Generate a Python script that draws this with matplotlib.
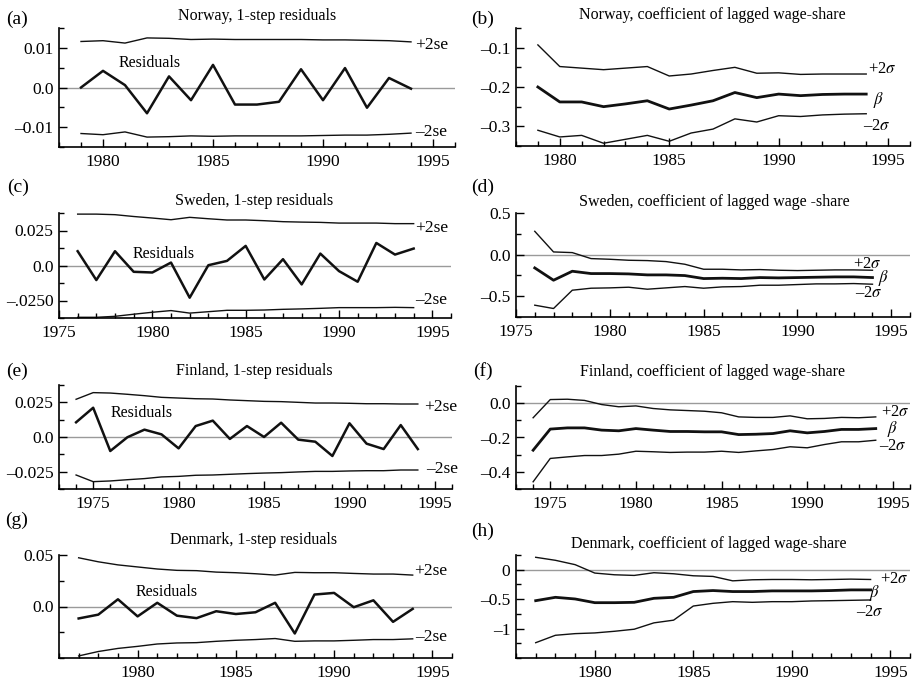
import matplotlib.pyplot as plt
from matplotlib.ticker import MultipleLocator

plt.rcParams['font.family'] = ['Liberation Serif', 'DejaVu Serif']
plt.rcParams['mathtext.fontset'] = 'stix'

W, H = 915, 680

# Norway
no_years = list(range(1979, 1995))
no_res = [0.0, 0.0042, 0.0006, -0.0065, 0.0028, -0.0032, 0.0057, -0.0043,
          -0.0043, -0.0036, 0.0046, -0.0032, 0.0049, -0.0051, 0.0024, -0.0003]
no_se_up = [0.0116, 0.0118, 0.0112, 0.0125, 0.0124, 0.0121, 0.0122, 0.0121,
            0.0121, 0.0121, 0.0121, 0.0120, 0.0120, 0.0119, 0.0118, 0.0115]
no_se_lo = [-0.0116, -0.0119, -0.0112, -0.0125, -0.0124, -0.0122, -0.0123, -0.0122,
            -0.0122, -0.0122, -0.0122, -0.0121, -0.0120, -0.0120, -0.0118, -0.0115]
no_beta = [-0.200, -0.238, -0.238, -0.250, -0.243, -0.235, -0.256, -0.246,
           -0.235, -0.214, -0.227, -0.218, -0.222, -0.219, -0.218, -0.218]
no_beta_up = [-0.093, -0.148, -0.152, -0.156, -0.152, -0.148, -0.172, -0.167,
              -0.158, -0.150, -0.165, -0.164, -0.168, -0.167, -0.167, -0.167]
no_beta_lo = [-0.310, -0.327, -0.323, -0.343, -0.333, -0.323, -0.338, -0.317,
              -0.307, -0.281, -0.289, -0.273, -0.275, -0.271, -0.269, -0.268]

# Sweden
se_years = list(range(1976, 1995))
se_res = [0.0102, -0.0104, 0.0102, -0.0045, -0.0050, 0.0021, -0.0230, 0.0002, 0.0033,
          0.0140, -0.0100, 0.0045, -0.0135, 0.0085, -0.0040, -0.0116, 0.0161, 0.0078, 0.0121]
se_se_up = [0.0367, 0.0367, 0.0363, 0.0350, 0.0339, 0.0327, 0.0344, 0.0334, 0.0325,
            0.0325, 0.0320, 0.0313, 0.0310, 0.0308, 0.0303, 0.0303, 0.0303, 0.0299, 0.0299]
se_se_lo = [-0.0370, -0.0370, -0.0363, -0.0348, -0.0334, -0.0322, -0.0340, -0.0330, -0.0320,
            -0.0320, -0.0318, -0.0313, -0.0310, -0.0306, -0.0301, -0.0301, -0.0301, -0.0299, -0.0301]
se_beta = [-0.160, -0.308, -0.200, -0.228, -0.228, -0.232, -0.244, -0.244, -0.252,
           -0.288, -0.284, -0.288, -0.276, -0.280, -0.276, -0.272, -0.268, -0.268, -0.276]
se_beta_up = [0.280, 0.032, 0.024, -0.048, -0.056, -0.068, -0.072, -0.084, -0.116,
              -0.176, -0.176, -0.184, -0.180, -0.188, -0.192, -0.188, -0.184, -0.184, -0.188]
se_beta_lo = [-0.608, -0.648, -0.428, -0.404, -0.400, -0.392, -0.416, -0.400, -0.384,
              -0.404, -0.388, -0.384, -0.368, -0.368, -0.360, -0.352, -0.352, -0.348, -0.356]

# Finland
fi_years = list(range(1974, 1995))
fi_res = [0.0106, 0.0211, -0.0101, -0.0002, 0.0053, 0.0019, -0.0082, 0.0079, 0.0118, -0.0014,
          0.0079, 0.0, 0.0103, -0.0019, -0.0034, -0.0137, 0.0099, -0.0048, -0.0087, 0.0086, -0.0087]
fi_se_up = [0.0272, 0.0320, 0.0317, 0.0308, 0.0298, 0.0286, 0.0281, 0.0276, 0.0274, 0.0267,
            0.0262, 0.0257, 0.0255, 0.0250, 0.0245, 0.0245, 0.0243, 0.0240, 0.0240, 0.0238, 0.0238]
fi_se_lo = [-0.0274, -0.0322, -0.0317, -0.0308, -0.0300, -0.0288, -0.0284, -0.0276, -0.0274, -0.0269,
            -0.0264, -0.0260, -0.0257, -0.0252, -0.0248, -0.0248, -0.0245, -0.0243, -0.0243, -0.0238, -0.0238]
fi_beta = [-0.274, -0.151, -0.144, -0.144, -0.157, -0.161, -0.148, -0.157, -0.165, -0.165,
           -0.167, -0.167, -0.183, -0.181, -0.177, -0.161, -0.173, -0.165, -0.153, -0.153, -0.148]
fi_beta_up = [-0.085, 0.021, 0.023, 0.016, -0.008, -0.021, -0.016, -0.031, -0.039, -0.043,
              -0.047, -0.056, -0.080, -0.083, -0.083, -0.074, -0.091, -0.089, -0.083, -0.085, -0.080]
fi_beta_lo = [-0.458, -0.322, -0.313, -0.305, -0.305, -0.297, -0.280, -0.283, -0.287, -0.285,
              -0.285, -0.280, -0.287, -0.278, -0.270, -0.254, -0.260, -0.241, -0.225, -0.225, -0.216]

# Denmark
dk_years = list(range(1977, 1995))
dk_res = [-0.0116, -0.0079, 0.0070, -0.0096, 0.0036, -0.0089, -0.0113, -0.0046, -0.0073,
          -0.0056, 0.0036, -0.0262, 0.0116, 0.0132, -0.0007, 0.0060, -0.0149, -0.0023]
dk_se_up = [0.0473, 0.0434, 0.0404, 0.0384, 0.0364, 0.0351, 0.0348, 0.0334, 0.0328,
            0.0318, 0.0305, 0.0331, 0.0328, 0.0328, 0.0321, 0.0315, 0.0315, 0.0305]
dk_se_lo = [-0.0480, -0.0437, -0.0407, -0.0387, -0.0364, -0.0354, -0.0351, -0.0338, -0.0328,
            -0.0321, -0.0311, -0.0338, -0.0334, -0.0334, -0.0328, -0.0321, -0.0321, -0.0314]
dk_beta = [-0.526, -0.469, -0.497, -0.560, -0.560, -0.554, -0.486, -0.469, -0.371,
           -0.354, -0.371, -0.371, -0.360, -0.360, -0.360, -0.354, -0.343, -0.343]
dk_beta_up = [0.211, 0.160, 0.086, -0.057, -0.086, -0.097, -0.051, -0.069, -0.103,
              -0.114, -0.189, -0.171, -0.166, -0.166, -0.171, -0.166, -0.160, -0.166]
dk_beta_lo = [-1.240, -1.114, -1.086, -1.074, -1.046, -1.011, -0.903, -0.857, -0.617,
              -0.571, -0.543, -0.554, -0.543, -0.543, -0.531, -0.526, -0.520, -0.514]

fig = plt.figure(figsize=(W / 100, H / 100), dpi=100)


def add_box(left, top, right, bottom):
    return fig.add_axes([left / W, 1 - bottom / H, (right - left) / W, (bottom - top) / H])


def style(ax, xlim, ylim, yticks, ylabels, yminor, zero=True):
    ax.set_xlim(*xlim)
    ax.set_ylim(*ylim)
    for s in ['top', 'right']:
        ax.spines[s].set_visible(False)
    for s in ['left', 'bottom']:
        ax.spines[s].set_linewidth(1.2)
    ax.xaxis.set_major_locator(MultipleLocator(5))
    ax.xaxis.set_minor_locator(MultipleLocator(1))
    ax.set_yticks(yticks)
    ax.set_yticklabels(ylabels)
    ax.yaxis.set_minor_locator(MultipleLocator(yminor))
    ax.tick_params(which='both', direction='in', labelsize=12.5, width=1.0)
    ax.tick_params(which='major', length=6)
    ax.tick_params(which='minor', length=3.5)
    ax.tick_params(axis='x', which='major', pad=5)
    ax.tick_params(axis='y', which='major', pad=4)
    if zero:
        ax.axhline(0, color='#9a9a9a', lw=1.0, zorder=1)


def header(letter, lx, ly, title, tx, ty):
    fig.text(lx / W, 1 - ly / H, letter, fontsize=14, ha='center', va='center')
    fig.text(tx / W, 1 - ty / H, title, fontsize=11.5, ha='center', va='center')


def resid_panel(ax, years, res, up, lo, res_xy, up_xy, lo_xy):
    ax.plot(years, up, color='#111111', lw=1.0)
    ax.plot(years, lo, color='#111111', lw=1.0)
    ax.plot(years, res, color='#111111', lw=1.8)
    ax.text(res_xy[0], res_xy[1], 'Residuals', fontsize=11.5, ha='left', va='center')
    ax.text(up_xy[0], up_xy[1], '+2se', fontsize=12.5, ha='left', va='center')
    ax.text(lo_xy[0], lo_xy[1], '–2se', fontsize=12.5, ha='left', va='center')


def coef_panel(ax, years, beta, up, lo, up_xy, b_xy, lo_xy):
    ax.plot(years, up, color='#111111', lw=1.0)
    ax.plot(years, lo, color='#111111', lw=1.0)
    ax.plot(years, beta, color='#111111', lw=2.0)
    ax.text(up_xy[0], up_xy[1], r'+2$\sigma$', fontsize=12, ha='left', va='center')
    ax.text(b_xy[0], b_xy[1], r'$\beta$', fontsize=12, ha='left', va='center')
    ax.text(lo_xy[0], lo_xy[1], r'–2$\sigma$', fontsize=12, ha='left', va='center')


# (a)
ax = add_box(59, 28, 455, 147)
style(ax, (1978, 1996), (-0.015, 0.015), [-0.01, 0.0, 0.01], ['–0.01', '0.0', '0.01'], 0.005)
resid_panel(ax, no_years, no_res, no_se_up, no_se_lo,
            (1980.7, 0.0063), (1994.2, 0.0106), (1994.2, -0.0111))
header('(a)', 17, 19, 'Norway, 1-step residuals', 257, 16)

# (b)
ax = add_box(516, 28, 910, 146)
style(ax, (1978, 1996), (-0.35, -0.05), [-0.3, -0.2, -0.1], ['–0.3', '–0.2', '–0.1'], 0.05, zero=False)
coef_panel(ax, no_years, no_beta, no_beta_up, no_beta_lo,
           (1994.1, -0.154), (1994.3, -0.233), (1993.85, -0.300))
header('(b)', 483, 19, 'Norway, coefficient of lagged wage-share', 712, 15)

# (c)
ax = add_box(59, 213, 451, 318)
style(ax, (1975, 1996), (-0.0375, 0.0375), [-0.025, 0.0, 0.025], ['–.0250', '0.0', '0.025'], 0.0125)
resid_panel(ax, se_years, se_res, se_se_up, se_se_lo,
            (1978.95, 0.0085), (1994.1, 0.027), (1994.1, -0.0246))
header('(c)', 18, 187, 'Sweden, 1-step residuals', 254, 201)

# (d)
ax = add_box(516, 213, 910, 317)
style(ax, (1975, 1996), (-0.75, 0.5), [-0.5, 0.0, 0.5], ['–0.5', '0.0', '0.5'], 0.25)
coef_panel(ax, se_years, se_beta, se_beta_up, se_beta_lo,
           (1992.96, -0.110), (1994.3, -0.28), (1993.07, -0.46))
header('(d)', 483, 187, 'Sweden, coefficient of lagged wage -share', 714, 202)

# (e)
ax = add_box(59, 385, 452, 489)
style(ax, (1973, 1996), (-0.0375, 0.0375), [-0.025, 0.0, 0.025], ['–0.025', '0.0', '0.025'], 0.0125)
resid_panel(ax, fi_years, fi_res, fi_se_up, fi_se_lo,
            (1976.0, 0.017), (1994.35, 0.0218), (1994.5, -0.0233))
header('(e)', 17, 371, 'Finland, 1-step residuals', 254, 371)

# (f)
ax = add_box(516, 386, 910, 489)
style(ax, (1973, 1996), (-0.5, 0.1), [-0.4, -0.2, 0.0], ['–0.4', '–0.2', '0.0'], 0.1)
coef_panel(ax, fi_years, fi_beta, fi_beta_up, fi_beta_lo,
           (1994.3, -0.050), (1994.65, -0.152), (1994.2, -0.248))
header('(f)', 483, 371, 'Finland, coefficient of lagged wage-share', 713, 372)

# (g)
ax = add_box(59, 555, 452, 658)
style(ax, (1976, 1996), (-0.05, 0.05), [0.0, 0.05], ['0.0', '0.05'], 0.025)
resid_panel(ax, dk_years, dk_res, dk_se_up, dk_se_lo,
            (1979.9, 0.0142), (1994.07, 0.0348), (1994.1, -0.0295))
header('(g)', 17, 520, 'Denmark, 1-step residuals', 254, 540)

# (h)
ax = add_box(516, 555, 910, 658)
style(ax, (1976, 1996), (-1.5, 0.25), [-1.0, -0.5, 0.0], ['–1', '–0.5', '0'], 0.25)
coef_panel(ax, dk_years, dk_beta, dk_beta_up, dk_beta_lo,
           (1994.5, -0.160), (1993.9, -0.40), (1993.25, -0.726))
header('(h)', 483, 531, 'Denmark, coefficient of lagged wage-share', 709, 544)

fig.savefig('out.png', dpi=100)
